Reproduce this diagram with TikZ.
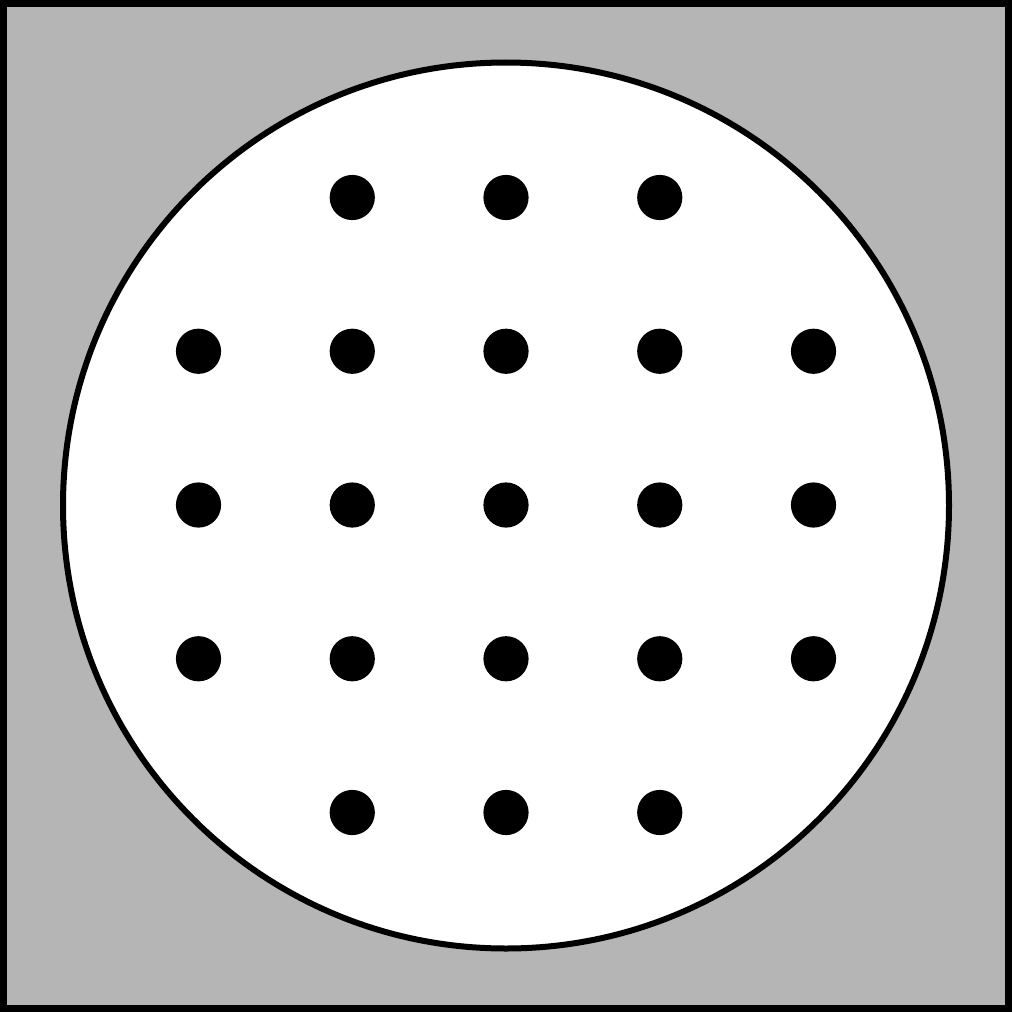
\documentclass[tikz,border=0pt]{standalone}
\definecolor{bggrey}{RGB}{180,181,180}
\begin{document}
\begin{tikzpicture}[x=0.01cm,y=-0.01cm,
  frame/.style={draw=black,fill=bggrey,line width=0.07cm},
  disc/.style={draw=black,fill=white,line width=0.06cm},
  dot/.style={fill=black}]
\useasboundingbox (0,0) rectangle (1012,1012);
\draw[frame] (3.5,3.5) rectangle (1008.5,1008.5);
\draw[disc] (506,505.5) circle (443);
\foreach \i/\j in {1/0,2/0,3/0,
                   0/1,1/1,2/1,3/1,4/1,
                   0/2,1/2,2/2,3/2,4/2,
                   0/3,1/3,2/3,3/3,4/3,
                   1/4,2/4,3/4}{
  \fill[dot] ({198.5+153.75*\i},{197.5+153.75*\j}) circle (22.6);
}
\end{tikzpicture}
\end{document}
